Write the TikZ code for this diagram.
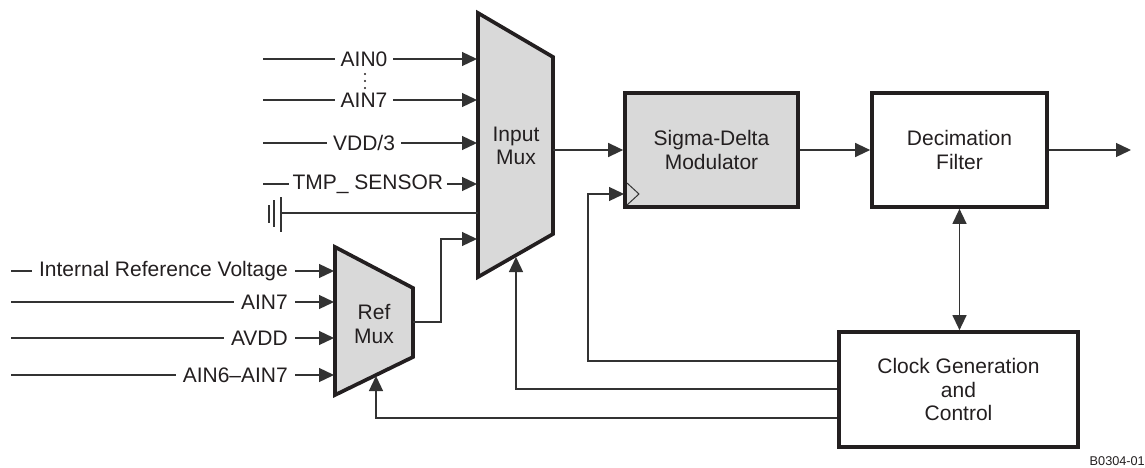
\documentclass[tikz,border=0pt]{standalone}
\usepackage{fontspec}
\setmainfont{Liberation Sans}
\usetikzlibrary{arrows.meta}
\definecolor{ln}{HTML}{333333}
\definecolor{bd}{HTML}{231F20}
\definecolor{mg}{HTML}{D9D9D9}
\begin{document}
\begin{tikzpicture}[x=1pt,y=-1pt,
  font=\fontsize{21}{23.5}\selectfont,
  wire/.style={draw=ln, line width=1.3pt},
  arr/.style={wire, -{Triangle[length=15pt,width=14pt]}},
  darr/.style={wire, {Triangle[length=15pt,width=14pt]}-{Triangle[length=15pt,width=14pt]}},
  thickline/.style={draw=bd, line width=3.7pt, line join=miter},
  blk/.style={thickline, align=center, inner sep=0pt, text=bd},
  lblw/.style={fill=white, inner xsep=6pt, inner ysep=1pt, text=bd},
  lblr/.style={fill=white, inner xsep=7pt, inner ysep=1pt, text=bd, anchor=east},
  mtext/.style={align=center, text=bd, inner sep=0pt}
]
\useasboundingbox (0,0) rectangle (1145,468);

% ---- Input Mux ----
\coordinate (im1) at (478,13);
\coordinate (im2) at (553,57);
\coordinate (im3) at (553,234);
\coordinate (im4) at (478,277);
\draw[thickline, fill=mg] (im1) -- (im2) -- (im3) -- (im4) -- cycle;
\node[mtext] (imux) at (516,146) {Input\\Mux};

% ---- Ref Mux ----
\coordinate (rm1) at (335,247);
\coordinate (rm2) at (413,288);
\coordinate (rm3) at (413,357);
\coordinate (rm4) at (335,395);
\draw[thickline, fill=mg] (rm1) -- (rm2) -- (rm3) -- (rm4) -- cycle;
\node[mtext] (rmux) at (374,324) {Ref\\Mux};

% ---- Blocks ----
\node[blk, fill=mg, minimum width=173pt, minimum height=114pt] (sdm) at (711.5,150) {Sigma-Delta\\Modulator};
\node[blk, fill=white, minimum width=175pt, minimum height=114pt] (dec) at (959.5,150) {Decimation\\Filter};
\node[blk, fill=white, minimum width=239pt, minimum height=115pt] (clk) at (958.5,389.5) {Clock Generation\\and\\Control};

% clock triangle on modulator
\coordinate (ct1) at (627,183);
\coordinate (ct2) at (639,194);
\coordinate (ct3) at (627,205);
\draw[wire, line width=1pt] (ct1) -- (ct2) -- (ct3);

% ---- Input Mux inputs ----
\coordinate (a0s) at (263,59);  \coordinate (a0e) at (477,59);
\coordinate (a7s) at (263,100); \coordinate (a7e) at (477,100);
\coordinate (vds) at (263,143); \coordinate (vde) at (477,143);
\coordinate (tms) at (263,184); \coordinate (tme) at (477,184);
\draw[arr] (a0s) -- (a0e) node[lblw, pos=0.472] (lain0) {AIN0};
\draw[arr] (a7s) -- (a7e) node[lblw, pos=0.472] (lain7) {AIN7};
\draw[arr] (vds) -- (vde) node[lblw, pos=0.472] (lvdd) {VDD/3};
\draw[arr] (tms) -- (tme) node[lblw, inner xsep=4pt, pos=0.49] (ltmp) {TMP\_ SENSOR};

% vertical ellipsis
\foreach \yy/\nm in {74/d1,81/d2,88/d3}
  \fill[bd] (365,\yy) circle (1.2pt) coordinate (\nm);

% ground
\coordinate (gw) at (281,213);
\coordinate (gm) at (478,213);
\draw[wire] (gw) -- (gm);
\coordinate (g1a) at (281,197); \coordinate (g1b) at (281,232);
\coordinate (g2a) at (274,200); \coordinate (g2b) at (274,227);
\coordinate (g3a) at (269,205); \coordinate (g3b) at (269,223);
\draw[wire, line width=1.5pt] (g1a) -- (g1b);
\draw[wire, line width=1.5pt] (g2a) -- (g2b);
\draw[wire, line width=1.5pt] (g3a) -- (g3b);

% ---- Ref Mux inputs ----
\coordinate (r1s) at (11,271); \coordinate (r1e) at (334,271);
\coordinate (r2s) at (11,302); \coordinate (r2e) at (334,302);
\coordinate (r3s) at (11,338); \coordinate (r3e) at (334,338);
\coordinate (r4s) at (11,375); \coordinate (r4e) at (334,375);
\coordinate (r1t) at (295,271);
\coordinate (r2t) at (295,302);
\coordinate (r3t) at (295,338);
\coordinate (r4t) at (295,375);
\draw[arr] (r1s) -- (r1e);
\draw[arr] (r2s) -- (r2e);
\draw[arr] (r3s) -- (r3e);
\draw[arr] (r4s) -- (r4e);
\node[lblr] (lirv) at (r1t) {Internal Reference Voltage};
\node[lblr] (lra7) at (r2t) {AIN7};
\node[lblr] (lavdd) at (r3t) {AVDD};
\node[lblr] (la67) at (r4t) {AIN6--AIN7};

% ---- Ref Mux output to Input Mux ----
\coordinate (rmo) at (413,322);
\coordinate (rmk1) at (441,322);
\coordinate (rmk2) at (441,239);
\coordinate (imin) at (477,239);
\draw[arr] (rmo) -- (rmk1) -- (rmk2) -- (imin);

% ---- Main signal path ----
\coordinate (imo) at (553,150);
\coordinate (out) at (1131,150);
\draw[arr] (imo) -- (sdm.west);
\draw[arr] (sdm.east) -- (dec.west);
\draw[arr] (dec.east) -- (out);
\draw[darr] (dec.south) -- (dec.south |- clk.north);

% ---- Clock feedback lines ----
\coordinate (c1) at (588,361);
\coordinate (c1b) at (588,194);
\coordinate (c1e) at (624,194);
\draw[arr] (clk.west |- c1) -- (c1) -- (c1b) -- (c1e);

\coordinate (c2) at (516,389);
\coordinate (c2e) at (516,257);
\draw[arr] (clk.west |- c2) -- (c2) -- (c2e);

\coordinate (c3) at (376,418);
\coordinate (c3e) at (376,376);
\draw[arr] (clk.west |- c3) -- (c3) -- (c3e);

% ---- figure id ----
\node[text=bd, font=\fontsize{12.7}{14}\selectfont, anchor=east, inner sep=0pt] (fid) at (1145,461) {B0304-01};
\end{tikzpicture}
\end{document}
